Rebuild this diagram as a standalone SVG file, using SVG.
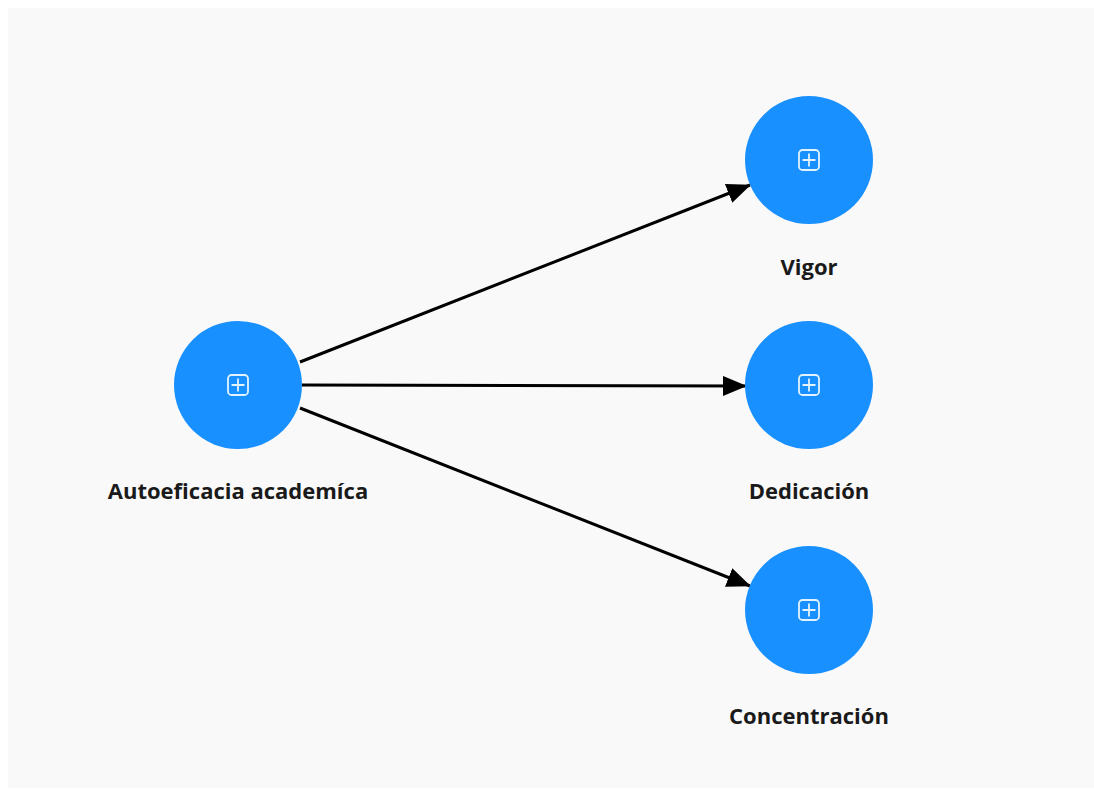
<svg xmlns="http://www.w3.org/2000/svg" width="1094" height="807" viewBox="0 0 1094 807">
<style>
.node circle{fill:#1890ff;}
.icon{fill:none;stroke:#e3f2ff;stroke-width:1.8;}
.label{font-family:"Open Sans","Noto Sans",sans-serif;font-weight:bold;font-size:22px;fill:#1a1a1a;text-anchor:middle;}
.edge{stroke:#000;stroke-width:3;fill:none;marker-end:url(#arrowL);}
</style>
<defs>
<marker id="arrowL" viewBox="0 0 24 20" refX="23" refY="10" markerWidth="24" markerHeight="20" markerUnits="userSpaceOnUse" orient="auto">
<path d="M0,0 L24,10 L0,20 z" fill="#000"/>
</marker>
<g id="plus">
<rect x="-10" y="-10" width="20" height="20" rx="3.5" class="icon"/>
<path d="M0,-6.5 V6.5 M-6.5,0 H6.5" class="icon"/>
</g>
</defs>
<rect x="0" y="0" width="1094" height="807" fill="#ffffff"/>
<rect x="8" y="8" width="1086" height="780" fill="#f9f9f9"/>
<g id="connectors">
<line class="edge" x1="300" y1="362" x2="750" y2="185"/>
<line class="edge" x1="302" y1="385" x2="746" y2="386"/>
<line class="edge" x1="300" y1="408" x2="750" y2="586"/>
</g>
<g id="node-autoeficacia" class="node">
<circle cx="238" cy="385" r="64"/>
<use href="#plus" x="238" y="385"/>
<text class="label" x="238" y="499">Autoeficacia academíca</text>
</g>
<g id="node-vigor" class="node">
<circle cx="809" cy="160" r="64"/>
<use href="#plus" x="809" y="160"/>
<text class="label" x="809" y="275">Vigor</text>
</g>
<g id="node-dedicacion" class="node">
<circle cx="809" cy="385" r="64"/>
<use href="#plus" x="809" y="385"/>
<text class="label" x="809" y="499">Dedicación</text>
</g>
<g id="node-concentracion" class="node">
<circle cx="809" cy="610" r="64"/>
<use href="#plus" x="809" y="610"/>
<text class="label" x="809" y="724">Concentración</text>
</g>
</svg>
